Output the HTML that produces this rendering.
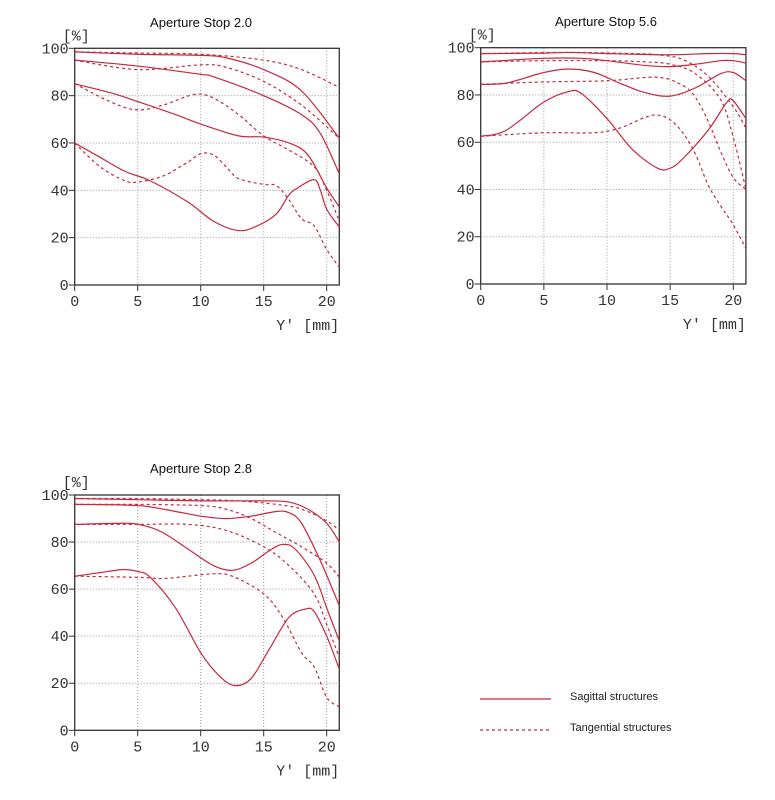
<!DOCTYPE html>
<html><head><meta charset="utf-8"><style>
html,body{margin:0;padding:0;background:#fff;width:775px;height:800px;overflow:hidden}
svg{display:block}
.t{font-family:"Liberation Sans",sans-serif;font-size:13px;fill:#111;text-anchor:middle}
.n{font-family:"Liberation Mono",monospace;font-size:15px;fill:#333}
.l{font-family:"Liberation Sans",sans-serif;font-size:11px;fill:#222}
</style></head><body>
<svg id="s" width="775" height="800" xmlns="http://www.w3.org/2000/svg">
<text class="t" x="201" y="27">Aperture Stop 2.0</text>
<text class="t" x="606" y="26">Aperture Stop 5.6</text>
<text class="t" x="201" y="473">Aperture Stop 2.8</text>
<line x1="480" y1="699" x2="551" y2="699" stroke="#c8283c" stroke-width="1.2"/>
<line x1="480" y1="730" x2="551" y2="730" stroke="#c8283c" stroke-width="1.2" stroke-dasharray="3,3"/>
<text class="l" x="570" y="700">Sagittal structures</text>
<text class="l" x="570" y="731">Tangential structures</text>
</svg>
<script>
var S=document.getElementById('s'),NS='http://www.w3.org/2000/svg';
function el(t,a,txt){var e=document.createElementNS(NS,t);for(var k in a)e.setAttribute(k,a[k]);if(txt)e.textContent=txt;S.appendChild(e);return e;}
function chart(x0,x20,y100,y0,series){
 var sx=(x20-x0)/20,sy=(y0-y100)/100,xr=x0+21*sx;
 function X(v){return x0+v*sx}function Y(v){return y0-v*sy}
 for(var g=20;g<100;g+=20)el('line',{x1:x0,x2:xr,y1:Y(g),y2:Y(g),stroke:'#999','stroke-width':1,'stroke-dasharray':'1,2'});
 for(var g=5;g<=20;g+=5)el('line',{x1:X(g),x2:X(g),y1:y100,y2:y0,stroke:'#999','stroke-width':1,'stroke-dasharray':'1,2'});
 el('rect',{x:x0,y:y100,width:xr-x0,height:y0-y100,fill:'none',stroke:'#333','stroke-width':1.3});
 for(var g=0;g<=100;g+=20){el('line',{x1:x0-6,x2:x0,y1:Y(g),y2:Y(g),stroke:'#333'});el('text',{'class':'n',x:x0-6,y:Y(g)+5,'text-anchor':'end'},''+g);}
 for(var g=0;g<=20;g+=5){el('line',{x1:X(g),x2:X(g),y1:y0,y2:y0+6,stroke:'#333'});el('text',{'class':'n',x:X(g),y:y0+21,'text-anchor':'middle'},''+g);}
 el('text',{'class':'n',x:x0-12,y:y100-8,'font-size':'13'},'[%]');
 el('text',{'class':'n',x:xr,y:y0+45,'text-anchor':'end','font-size':'14'},"Y'  [mm]");
 series.forEach(function(s){
  var p=s[1].map(function(q){return [X(q[0]),Y(q[1])]});
  var d='M'+p[0][0]+','+p[0][1];
  for(var i=0;i<p.length-1;i++){var a=p[i-1]||p[i],b=p[i],c=p[i+1],e=p[i+2]||c;
   d+='C'+(b[0]+(c[0]-a[0])/6)+','+(b[1]+(c[1]-a[1])/6)+' '+(c[0]-(e[0]-b[0])/6)+','+(c[1]-(e[1]-b[1])/6)+' '+c[0]+','+c[1];}
  var at={d:d,fill:'none',stroke:'#c8283c','stroke-width':1.2};
  if(s[0])at['stroke-dasharray']='3,3';
  el('path',at);
 });
}
chart(74.7,326.7,48.3,285,[
[0,[[0,98.5],[5,97.5],[10,97],[12,96],[15,91],[18,82],[21,62]]],
[1,[[0,98.5],[5,98],[10,97.5],[15,95],[18,91],[21,83.5]]],
[0,[[0,95],[5,92.5],[10,89],[11,88],[15,80],[18,72],[19.5,64],[21,47]]],
[1,[[0,95],[5,91],[10,93],[12,92],[15,86],[18,76],[21,62]]],
[0,[[0,85],[3,81],[5,77.5],[8,72],[10,68],[13,63],[15,62.5],[17,60],[18.5,55],[20,41],[21,33]]],
[1,[[0,85],[3,77],[5,74],[7,76],[9.5,80.5],[11,79],[13,72],[15,63],[17,57],[19,50],[20,40],[21,27]]],
[0,[[0,60],[2,54],[4,48],[6,44],[9,35],[11,27],[13,23],[14.5,25],[16,30],[17,38],[17.7,41],[19,44.5],[19.5,40],[20,32],[21,24.5]]],
[1,[[0,60],[2,50],[4,44],[5,43.5],[7,46],[9,52],[10,55.5],[11,55],[12,50],[13,45],[15,42.5],[16,42],[17,36],[18,28],[19,25],[20,15],[21,7.5]]]
]);
chart(480.7,733.3,47.7,284,[
[0,[[0,97.5],[5,97.7],[7,98],[10,97.5],[15,97],[18,97.5],[20,97.5],[21,97]]],
[1,[[0,97.5],[7,98],[12,97.5],[14,97],[16,95],[18,88],[20,75],[21,66]]],
[0,[[0,94],[5,95.5],[8,95.5],[10,94.5],[13,92.5],[15,92],[17,93],[19,94.5],[20,94.5],[21,93.5]]],
[1,[[0,94],[5,94.5],[10,94.5],[13,94],[15,93],[17,89],[19,78],[20,62],[21,40]]],
[0,[[0,84.5],[2,85],[5,89.5],[7,91],[9,89.5],[11,85],[13,81],[15,79.5],[17,83],[19,89],[20,89.5],[21,86]]],
[1,[[0,84.5],[5,85.5],[10,86],[14,87.5],[16,84],[17,79],[18,69],[19,56],[20,45],[21,40]]],
[0,[[0,62.5],[2,65],[5,77],[7,81.5],[8,80.5],[10,70],[12,57],[14,49],[15,49],[16,53],[18,65],[19.5,77],[20,77.5],[21,70]]],
[1,[[0,62.5],[5,64],[9,64],[11,66],[13,70.5],[14,71.5],[15,69.5],[16,64],[17,55],[18,42],[19,33],[20,25],[21,15]]]
]);
chart(74.7,326.7,495,730.3,[
[0,[[0,98.5],[5,98],[10,97.5],[15,97.5],[17,97],[18.5,94],[20,88],[21,80]]],
[1,[[0,98.5],[5,98.5],[10,98],[13,97.5],[16,96],[18,94],[20,89],[21,85]]],
[0,[[0,96],[5,95.5],[8,93],[10,91],[12,90],[14,91],[16,93],[17,92.5],[18,88],[19.5,72],[21,53]]],
[1,[[0,96],[5,96],[10,95.5],[12,94],[14,90],[16,84],[18,78],[20,71],[21,65]]],
[0,[[0,87.5],[4,88],[5.5,87],[7,84],[9,77],[11,70],[12.5,68],[14,71],[15.5,76.5],[16.5,79],[17.5,77],[19,66],[20,52],[21,38]]],
[1,[[0,87.5],[5,87.5],[9,87.5],[12,85],[15,78],[17,70],[19,58],[20,45],[21,31]]],
[0,[[0,65.5],[2,67],[3.8,68.3],[5,67.5],[6,65],[8,52],[10,33],[11.5,23],[12.7,19],[14,22],[15.5,35],[17,48],[18.3,51.5],[19,50.5],[20,40],[21,26]]],
[1,[[0,65.5],[5,65],[7,64.5],[9,65.5],[11,66.5],[12.5,65.5],[15,58],[16.5,48],[18,33],[19,27],[20,14],[21,10]]]
]);
</script>
</body></html>
